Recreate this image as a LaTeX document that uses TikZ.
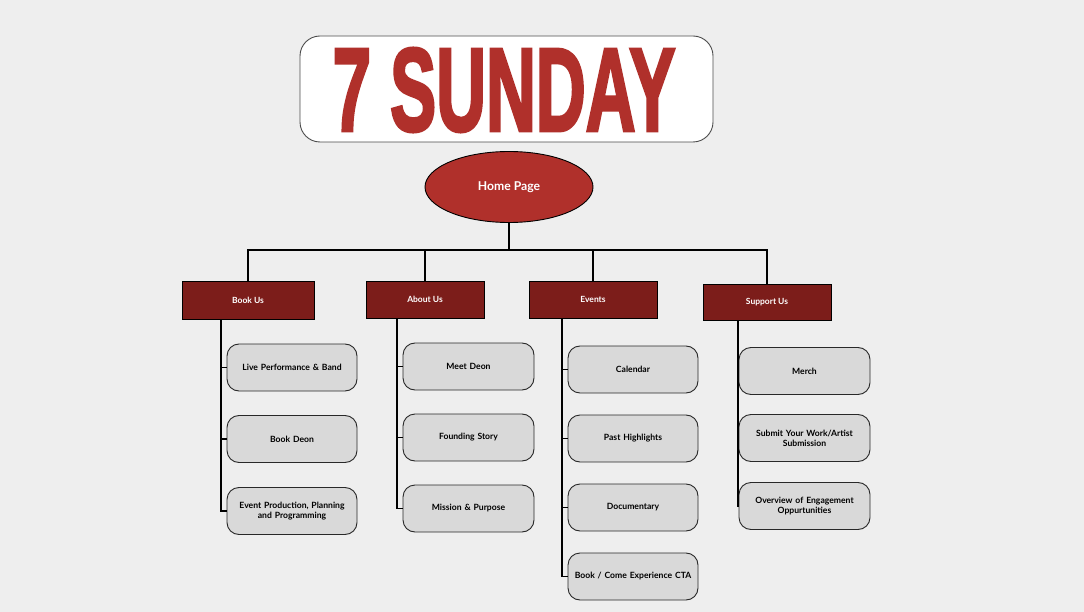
\documentclass[tikz,border=0pt]{standalone}
\usepackage{fontspec}
\usepackage{xcolor}
\usepackage{tikz}
\usetikzlibrary{shapes.geometric,positioning,calc}
\setmainfont{Lato}
\newfontfamily\titlefont[FakeBold=3]{Liberation Sans Bold}
\definecolor{sunBg}    {RGB}{238, 238, 238}
\definecolor{sunRed}   {RGB}{176,  48,  43}
\definecolor{sunDark}  {RGB}{124,  29,  26}
\definecolor{sunGray}  {RGB}{217, 217, 217}
\definecolor{sunLine}  {RGB}{ 40,  40,  40}

\tikzset{
  catbox/.style={draw=black,fill=sunDark,text=white,line width=0.9pt,
    minimum width=130pt,minimum height=37pt,inner sep=0pt,
    font=\bfseries\fontsize{8.5}{10}\selectfont},
  subbox/.style={draw=sunLine,fill=sunGray,rounded corners=12pt,line width=0.9pt,
    minimum width=130pt,minimum height=47pt,inner sep=2pt,align=center,
    text width=126pt,font=\bfseries\fontsize{8.6}{10}\selectfont},
  link/.style={draw=black,line width=1.4pt}
}

\begin{document}
\begin{tikzpicture}[x=1pt,y=-1pt]
        \fill[sunBg] (0,0) rectangle (1084,612);
        \useasboundingbox (0,0) rectangle (1084,612);
        % Titel
        \draw[fill=white,draw=black!70,rounded corners=20pt,line width=0.9pt]
          (300,36) rectangle (713,142);
        \node[text=sunRed,xscale=0.585,inner sep=0pt] (title) at (504,90)
          {\titlefont\fontsize{118}{118}\selectfont 7 SUNDAY};
        % Home
        \node[ellipse,draw=black,fill=sunRed,line width=0.9pt,text=white,
          minimum width=168pt,minimum height=71pt,
          font=\bfseries\fontsize{12.2}{14}\selectfont] (hp) at (509,187) {Home Page};
        % Rubriken
        \node[catbox,minimum width=132pt,minimum height=38pt] (bookus) at (248,300) {Book Us};
        \node[catbox,minimum width=118pt] (aboutus) at (425,299.5) {About Us};
        \node[catbox,minimum width=128pt] (events) at (593,299.5) {Events};
        \node[catbox,minimum width=128pt,minimum height=36pt] (support) at (767,302) {Support Us};
        \coordinate (bar) at (509,250);
        \draw[link] (hp.south) -- (bar);
        \draw[link] (bookus.north) |- (bar) -| (support.north);
        \draw[link] (aboutus.north) -- (aboutus.north |- bar);
        \draw[link] (events.north) -- (events.north |- bar);
        % Unterseiten
        \foreach \nm/\y/\lab in {
          b1/367.5/Live Performance \& Band,
          b2/439/Book Deon,
          b3/511/{Event Production, Planning\\and Programming}}{
          \node[subbox] (\nm) at (292,\y) {\lab};
        }
        \foreach \nm/\y/\lab in {
          a1/366.5/Meet Deon,
          a2/437.5/Founding Story,
          a3/508.5/Mission \& Purpose}{
          \node[subbox,minimum width=131pt] (\nm) at (468.5,\y) {\lab};
        }
        \foreach \nm/\y/\lab in {
          e1/369.5/Calendar,
          e2/438.5/Past Highlights,
          e3/507.5/Documentary,
          e4/576.5/{Book / Come Experience CTA}}{
          \node[subbox] (\nm) at (633,\y) {\lab};
        }
        \foreach \nm/\y/\lab in {
          s1/371/Merch,
          s2/438/{Submit Your Work/Artist\\Submission},
          s3/506/{Overview of Engagement\\Oppurtunities}}{
          \node[subbox,minimum width=131pt] (\nm) at (804.5,\y) {\lab};
        }
        % Stammlinien
        \coordinate (bsp) at (221,319);
        \coordinate (asp) at (397,318.5);
        \coordinate (esp) at (562,318.5);
        \coordinate (ssp) at (738,320);
        \draw[link] (bsp) |- (b3.west);
        \draw[link] (asp) |- (a3.west);
        \draw[link] (esp) |- (e4.west);
        \draw[link] (ssp) |- (s3.west);
        \foreach \nm in {b1,b2}{\draw[link] (\nm.west) -- (\nm.west -| bsp);}
        \foreach \nm in {a1,a2}{\draw[link] (\nm.west) -- (\nm.west -| asp);}
        \foreach \nm in {e1,e2,e3}{\draw[link] (\nm.west) -- (\nm.west -| esp);}
        \foreach \nm in {s1,s2}{\draw[link] (\nm.west) -- (\nm.west -| ssp);}
      \end{tikzpicture}
\end{document}
